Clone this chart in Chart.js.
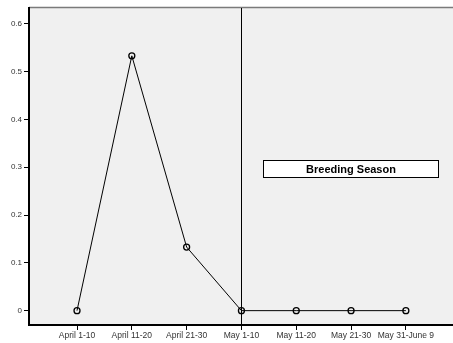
<!DOCTYPE html>
<html>
<head>
<meta charset="utf-8">
<script src="https://cdn.jsdelivr.net/npm/chart.js@4/dist/chart.umd.min.js"></script>
<style>
  html, body { margin: 0; padding: 0; background: #ffffff; }
  #wrap { width: 453px; height: 343px; }
</style>
</head>
<body>
<div id="wrap"><canvas id="c" width="453" height="343"></canvas></div>
<script>
// Ten-day periods along the x axis
const periods = ['April 1-10', 'April 11-20', 'April 21-30', 'May 1-10', 'May 11-20', 'May 21-30', 'May 31-June 9'];
// Proportion observed in each period
const proportions = [0, 0.533, 0.133, 0, 0, 0, 0];
// Y tick values
const yTicks = [0, 0.1, 0.2, 0.3, 0.4, 0.5, 0.6];
// Breeding season starts at this period
const breedingStart = 'May 1-10';
const breedingLabel = 'Breeding Season';

const points = proportions.map((v, i) => ({ x: i, y: v }));
const startIdx = periods.indexOf(breedingStart);

const framePlugin = {
  id: 'frame',
  beforeDraw(chart) {
    const { ctx, chartArea: a } = chart;
    ctx.save();
    ctx.fillStyle = '#f0f0f0';
    ctx.fillRect(a.left, a.top, a.right - a.left, a.bottom - a.top);
    // top border
    ctx.strokeStyle = '#7a7a7a';
    ctx.lineWidth = 1.5;
    ctx.beginPath();
    ctx.moveTo(a.left, a.top - 0.5);
    ctx.lineTo(a.right, a.top - 0.5);
    ctx.stroke();
    ctx.restore();
  },
  afterDatasetsDraw(chart) {
    const { ctx, chartArea: a, scales: { x, y } } = chart;
    ctx.save();
    // breeding season marker line
    const vx = Math.round(x.getPixelForValue(startIdx)) + 0.5;
    ctx.strokeStyle = '#000';
    ctx.lineWidth = 1;
    ctx.beginPath();
    ctx.moveTo(vx, a.top);
    ctx.lineTo(vx, a.bottom);
    ctx.stroke();
    // label box
    const x0 = Math.round(x.getPixelForValue(3.39)) + 0.5;
    const x1 = Math.round(x.getPixelForValue(6.59)) + 0.5;
    const y0 = Math.round(y.getPixelForValue(0.316)) + 0.5;
    const y1 = Math.round(y.getPixelForValue(0.280)) + 0.5;
    ctx.fillStyle = '#ffffff';
    ctx.fillRect(x0, y0, x1 - x0, y1 - y0);
    ctx.strokeStyle = '#000';
    ctx.strokeRect(x0, y0, x1 - x0, y1 - y0);
    ctx.fillStyle = '#000';
    ctx.font = 'bold 11px "Liberation Sans", Arial, sans-serif';
    ctx.textAlign = 'center';
    ctx.textBaseline = 'middle';
    ctx.fillText(breedingLabel, (x0 + x1) / 2, (y0 + y1) / 2 + 0.5);
    ctx.restore();
  }
};

new Chart(document.getElementById('c'), {
  type: 'line',
  data: {
    datasets: [{
      data: points,
      borderColor: '#000',
      borderWidth: 1,
      pointRadius: 3,
      pointBorderWidth: 1.3,
      pointBorderColor: '#000',
      pointBackgroundColor: 'rgba(0,0,0,0)',
      tension: 0
    }]
  },
  options: {
    responsive: false,
    animation: false,
    events: [],
    layout: { autoPadding: false, padding: { top: 8, right: 0, left: 0, bottom: 0 } },
    plugins: { legend: { display: false }, tooltip: { enabled: false } },
    scales: {
      x: {
        type: 'linear',
        min: -0.876,
        max: 6.86,
        afterBuildTicks(s) { s.ticks = periods.map((_, i) => ({ value: i })); },
        afterFit(s) { s.height = 18; s.paddingLeft = 0; s.paddingRight = 0; },
        grid: { drawOnChartArea: false, drawTicks: true, tickLength: 5, color: '#000', tickWidth: 1 },
        border: { display: true, color: '#000', width: 2 },
        ticks: {
          autoSkip: false,
          maxRotation: 0,
          padding: 1,
          color: '#333',
          font: { family: '"Liberation Sans", Arial, sans-serif', size: 8.5 },
          callback: (v) => periods[v] ?? ''
        }
      },
      y: {
        type: 'linear',
        min: -0.03,
        max: 0.633,
        afterBuildTicks(s) { s.ticks = yTicks.map(v => ({ value: v })); },
        afterFit(s) { s.width = 29; s.paddingTop = 0; s.paddingBottom = 0; },
        grid: { drawOnChartArea: false, drawTicks: true, tickLength: 5, color: '#000', tickWidth: 1 },
        border: { display: true, color: '#000', width: 2 },
        ticks: {
          padding: 2,
          color: '#333',
          font: { family: '"Liberation Sans", Arial, sans-serif', size: 8 },
          callback: (v) => v === 0 ? '0' : v.toFixed(1)
        }
      }
    }
  },
  plugins: [framePlugin]
});
</script>
</body>
</html>
